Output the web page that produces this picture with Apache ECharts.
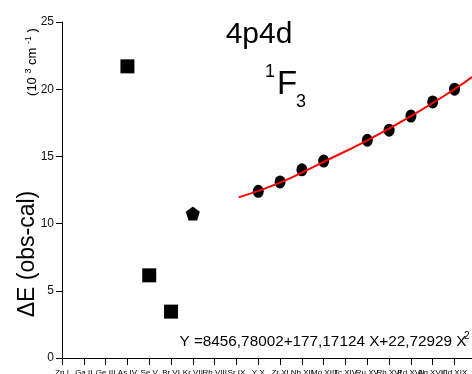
<!DOCTYPE html>
<html><head><meta charset="utf-8">
<script src="https://cdn.jsdelivr.net/npm/echarts@6/dist/echarts.min.js"></script>
<style>html,body{margin:0;padding:0;background:#fff;}#c{width:472px;height:374px;}</style>
</head><body><div id="c"></div>
<script>
var categories = ['Zn I','Ga II','Ge III','As IV','Se V','Br VI','Kr VII','Rb VIII','Sr IX','Y X','Zr XI','Nb XII','Mo XIII','Tc XIV','Ru XV','Rh XVI','Pd XVII','Ag XVIII','Cd XIX'];
var squareIdx = [3, 4, 5];
var squareVal = [21.7, 6.15, 3.45];
var pentIdx = [6];
var pentVal = [10.75];
var circleIdx = [9, 10, 11, 12, 14, 15, 16, 17, 18];
var circleVal = [12.4, 13.1, 14.0, 14.65, 16.2, 16.95, 18.0, 19.05, 20.0];
var fitIdx = [8.1, 10, 12, 14, 16, 18, 18.8];
var fitVal = [11.95, 13.05, 14.6, 16.2, 18.0, 20.0, 20.9];
var yTicks = [0, 5, 10, 15, 20, 25];

function pairs(xs, ys){ return xs.map(function(x,i){return [x, ys[i]];}); }
var chart = echarts.init(document.getElementById('c'), null, {renderer:'canvas'});
var F = "'Liberation Sans', Arial, sans-serif";
chart.setOption({
  animation: false,
  grid: {left: 62, top: 22, width: 410, height: 336, containLabel: false, outerBoundsMode: 'none'},
  xAxis: {
    type: 'value', min: 0, max: 18.8, interval: 1,
    axisLine: {lineStyle: {color: '#000', width: 1}},
    axisTick: {length: 7, lineStyle: {color: '#000'}},
    splitLine: {show: false},
    axisLabel: {margin: 11, fontSize: 8, color: '#000', fontFamily: F, showMaxLabel: false, hideOverlap: false,
      formatter: function(v){ return (Math.abs(v - Math.round(v)) < 1e-6 && categories[Math.round(v)]) ? categories[Math.round(v)] : ''; }}
  },
  yAxis: {
    type: 'value', min: yTicks[0], max: yTicks[yTicks.length-1], interval: 5,
    axisLine: {show: true, lineStyle: {color: '#000', width: 1}},
    axisTick: {show: true, length: 6, lineStyle: {color: '#000'}},
    splitLine: {show: false},
    axisLabel: {margin: 8, fontSize: 12, color: '#111', fontFamily: F}
  },
  series: [
    {type: 'scatter', data: pairs(squareIdx, squareVal), symbol: 'rect', symbolSize: 14, itemStyle: {color: '#000', opacity: 1}, z: 3},
    {type: 'scatter', data: pairs(pentIdx, pentVal), symbol: 'path://M0,-10 L9.51,-3.09 L5.88,8.09 L-5.88,8.09 L-9.51,-3.09 Z', symbolSize: 14, itemStyle: {color: '#000', opacity: 1}, z: 3},
    {type: 'scatter', data: pairs(circleIdx, circleVal), symbol: 'circle', symbolSize: [11, 13], itemStyle: {color: '#000', opacity: 1}, z: 3},
    {type: 'line', data: pairs(fitIdx, fitVal), smooth: true, showSymbol: false, lineStyle: {color: '#ff0000', width: 2}, z: 5}
  ],
  graphic: [
    {type: 'text', x: 259, y: 35, style: {text: '4p4d', font: '30px ' + F, fill: '#000', textAlign: 'center', textVerticalAlign: 'middle'}},
    {type: 'text', x: 287, y: 85, style: {text: 'F', font: '33px ' + F, fill: '#000', textAlign: 'center', textVerticalAlign: 'middle'}},
    {type: 'text', x: 270, y: 72, style: {text: '1', font: '18px ' + F, fill: '#000', textAlign: 'center', textVerticalAlign: 'middle'}},
    {type: 'text', x: 301, y: 102, style: {text: '3', font: '18px ' + F, fill: '#000', textAlign: 'center', textVerticalAlign: 'middle'}},
    {type: 'text', x: 323, y: 342, style: {text: 'Y =8456,78002+177,17124 X+22,72929 X', font: '15.3px ' + F, fill: '#000', textAlign: 'center', textVerticalAlign: 'middle'}},
    {type: 'text', x: 464, y: 336, style: {text: '2', font: '10px ' + F, fill: '#000', textAlign: 'left', textVerticalAlign: 'middle'}},
    {type: 'text', x: 28, y: 254, rotation: Math.PI/2, style: {text: 'ΔE (obs-cal)', font: '23px ' + F, fill: '#000', textAlign: 'center', textVerticalAlign: 'middle'}},
    {type: 'text', x: 32, y: 62, rotation: Math.PI/2, style: {
      text: '{a|(10 }{s|3}{a| cm }{s|-1}{a| )}', fill: '#000', textAlign: 'center', textVerticalAlign: 'middle',
      rich: {a: {fontSize: 13, fontFamily: F, fill: '#000'}, s: {fontSize: 9, fontFamily: F, fill: '#000', verticalAlign: 'top', padding: [0,0,6,0]}}}}
  ]
});
</script></body></html>
